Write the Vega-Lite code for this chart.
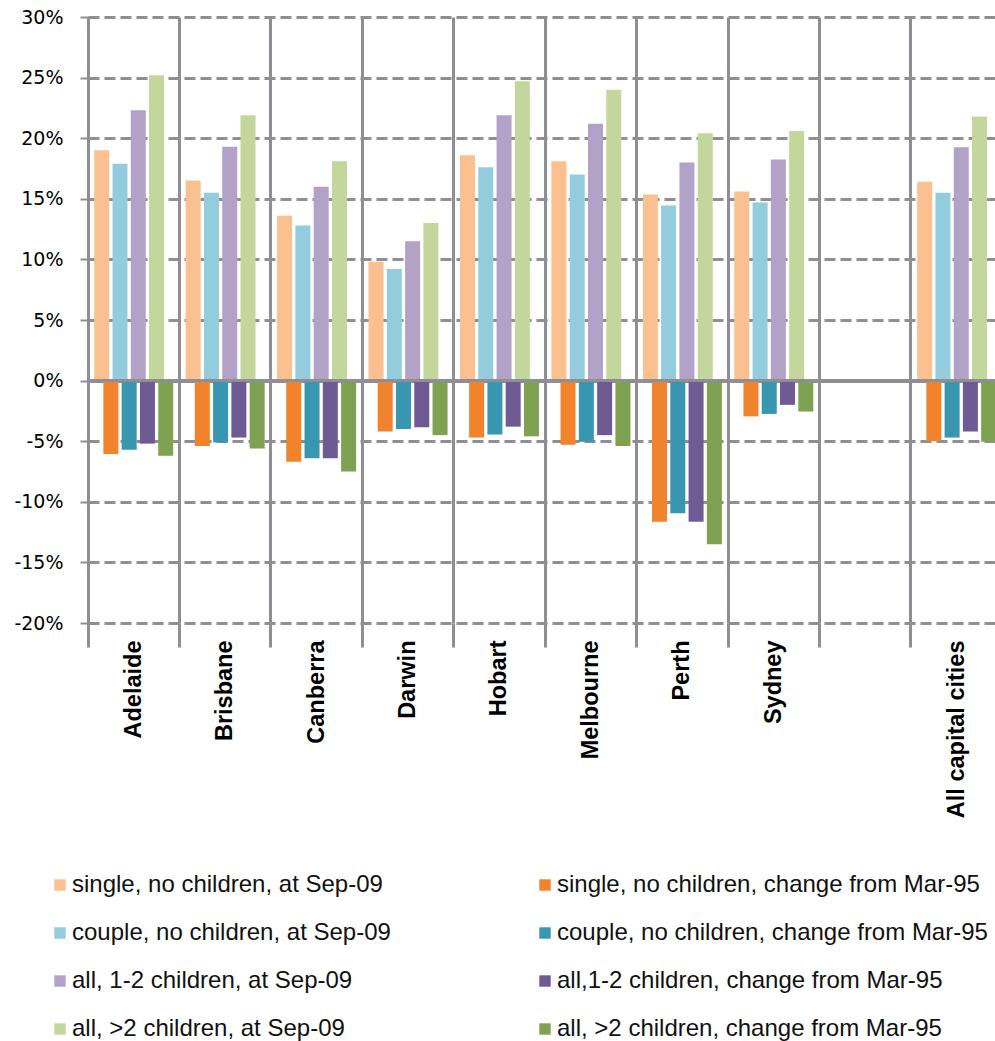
{
  "$schema": "https://vega.github.io/schema/vega-lite/v6.json",
  "autosize": {"type": "none"},
  "width": 907,
  "height": 606,
  "padding": {"left": 88, "top": 17, "right": 0, "bottom": 418},
  "background": "white",
  "config": {"view": {"stroke": null}, "font": "Liberation Sans"},
  "data": {
    "values": [
      {"city": "Adelaide", "single, no children, at Sep-09": 19.0, "single, no children, change from Mar-95": -6.05, "couple, no children, at Sep-09": 17.9, "couple, no children, change from Mar-95": -5.7, "all, 1-2 children, at Sep-09": 22.3, "all,1-2 children, change from Mar-95": -5.2, "all, >2 children, at Sep-09": 25.2, "all, >2 children, change from Mar-95": -6.2},
      {"city": "Brisbane", "single, no children, at Sep-09": 16.5, "single, no children, change from Mar-95": -5.4, "couple, no children, at Sep-09": 15.5, "couple, no children, change from Mar-95": -5.1, "all, 1-2 children, at Sep-09": 19.3, "all,1-2 children, change from Mar-95": -4.7, "all, >2 children, at Sep-09": 21.9, "all, >2 children, change from Mar-95": -5.6},
      {"city": "Canberra", "single, no children, at Sep-09": 13.6, "single, no children, change from Mar-95": -6.7, "couple, no children, at Sep-09": 12.8, "couple, no children, change from Mar-95": -6.4, "all, 1-2 children, at Sep-09": 16.0, "all,1-2 children, change from Mar-95": -6.4, "all, >2 children, at Sep-09": 18.1, "all, >2 children, change from Mar-95": -7.5},
      {"city": "Darwin", "single, no children, at Sep-09": 9.8, "single, no children, change from Mar-95": -4.2, "couple, no children, at Sep-09": 9.2, "couple, no children, change from Mar-95": -4.0, "all, 1-2 children, at Sep-09": 11.5, "all,1-2 children, change from Mar-95": -3.85, "all, >2 children, at Sep-09": 13.0, "all, >2 children, change from Mar-95": -4.5},
      {"city": "Hobart", "single, no children, at Sep-09": 18.6, "single, no children, change from Mar-95": -4.7, "couple, no children, at Sep-09": 17.6, "couple, no children, change from Mar-95": -4.45, "all, 1-2 children, at Sep-09": 21.9, "all,1-2 children, change from Mar-95": -3.8, "all, >2 children, at Sep-09": 24.7, "all, >2 children, change from Mar-95": -4.6},
      {"city": "Melbourne", "single, no children, at Sep-09": 18.1, "single, no children, change from Mar-95": -5.3, "couple, no children, at Sep-09": 17.0, "couple, no children, change from Mar-95": -5.05, "all, 1-2 children, at Sep-09": 21.2, "all,1-2 children, change from Mar-95": -4.5, "all, >2 children, at Sep-09": 24.0, "all, >2 children, change from Mar-95": -5.4},
      {"city": "Perth", "single, no children, at Sep-09": 15.35, "single, no children, change from Mar-95": -11.65, "couple, no children, at Sep-09": 14.45, "couple, no children, change from Mar-95": -10.95, "all, 1-2 children, at Sep-09": 18.0, "all,1-2 children, change from Mar-95": -11.65, "all, >2 children, at Sep-09": 20.4, "all, >2 children, change from Mar-95": -13.5},
      {"city": "Sydney", "single, no children, at Sep-09": 15.6, "single, no children, change from Mar-95": -2.95, "couple, no children, at Sep-09": 14.7, "couple, no children, change from Mar-95": -2.75, "all, 1-2 children, at Sep-09": 18.25, "all,1-2 children, change from Mar-95": -2.0, "all, >2 children, at Sep-09": 20.6, "all, >2 children, change from Mar-95": -2.55},
      {"city": "All capital cities", "single, no children, at Sep-09": 16.4, "single, no children, change from Mar-95": -5.0, "couple, no children, at Sep-09": 15.5, "couple, no children, change from Mar-95": -4.7, "all, 1-2 children, at Sep-09": 19.25, "all,1-2 children, change from Mar-95": -4.2, "all, >2 children, at Sep-09": 21.8, "all, >2 children, change from Mar-95": -5.05}
    ]
  },
  "transform": [
    {"fold": ["single, no children, at Sep-09", "single, no children, change from Mar-95", "couple, no children, at Sep-09", "couple, no children, change from Mar-95", "all, 1-2 children, at Sep-09", "all,1-2 children, change from Mar-95", "all, >2 children, at Sep-09", "all, >2 children, change from Mar-95"], "as": ["series", "value"]}
  ],
  "layer": [
    {
      "mark": {"type": "bar", "width": 15},
      "encoding": {
        "x": {
          "field": "city", "type": "nominal",
          "scale": {"domain": ["Adelaide", "Brisbane", "Canberra", "Darwin", "Hobart", "Melbourne", "Perth", "Sydney", " ", "All capital cities"], "range": [0, 914.4], "paddingInner": 0, "paddingOuter": 0},
          "axis": {
            "title": null, "bandPosition": 0, "domain": false,
            "grid": true, "gridColor": "#8e8e94", "gridWidth": 3, "gridDash": [],
            "ticks": true, "tickSize": 24, "tickColor": "#8e8e94", "tickWidth": 3,
            "labelAngle": 270, "labelAlign": "right", "labelBaseline": "middle",
            "labelFontWeight": "bold", "labelFontSize": 23.5, "labelFont": "Liberation Sans", "labelColor": "#000000",
            "labelPadding": -7, "labelLimit": 400
          }
        },
        "xOffset": {
          "field": "series",
          "scale": {"domain": ["single, no children, at Sep-09", "single, no children, change from Mar-95", "couple, no children, at Sep-09", "couple, no children, change from Mar-95", "all, 1-2 children, at Sep-09", "all,1-2 children, change from Mar-95", "all, >2 children, at Sep-09", "all, >2 children, change from Mar-95"], "paddingInner": 0, "paddingOuter": 1.25}
        },
        "y": {
          "field": "value", "type": "quantitative",
          "scale": {"domain": [-20, 30], "nice": false, "zero": false},
          "axis": {
            "title": null, "values": [-20, -15, -10, -5, 0, 5, 10, 15, 20, 25, 30],
            "labelExpr": "datum.value + '%'",
            "grid": true, "gridColor": "#8e8e94", "gridWidth": 3,
            "gridDash": {"condition": {"test": "datum.value === 0", "value": []}, "value": [11, 5]},
            "domain": true, "domainColor": "#8e8e94", "domainWidth": 3,
            "ticks": true, "tickSize": 8, "tickColor": "#8e8e94", "tickWidth": 2,
            "labelFont": "DejaVu Sans", "labelFontSize": 19, "labelColor": "#000000", "labelPadding": 17
          }
        },
        "color": {
          "field": "series", "type": "nominal",
          "scale": {
            "domain": ["single, no children, at Sep-09", "couple, no children, at Sep-09", "all, 1-2 children, at Sep-09", "all, >2 children, at Sep-09", "single, no children, change from Mar-95", "couple, no children, change from Mar-95", "all,1-2 children, change from Mar-95", "all, >2 children, change from Mar-95"],
            "range": ["#FAC08F", "#93CDDD", "#B3A2C7", "#C3D69B", "#F0832B", "#3996B0", "#6F5B93", "#7EA152"]
          },
          "legend": {
            "title": null, "orient": "none", "legendX": -40, "legendY": 856,
            "columns": 2, "gridAlign": "all", "columnPadding": 30, "rowPadding": 24,
            "symbolType": "square", "symbolSize": 130, "symbolStrokeWidth": 0,
            "labelFont": "Liberation Sans", "labelFontSize": 24, "labelColor": "#111111",
            "labelOffset": 0, "labelLimit": 600
          }
        }
      }
    },
    {
      "mark": {"type": "rule", "color": "#8e8e94", "strokeWidth": 3},
      "encoding": {"y": {"datum": 0}}
    }
  ]
}
